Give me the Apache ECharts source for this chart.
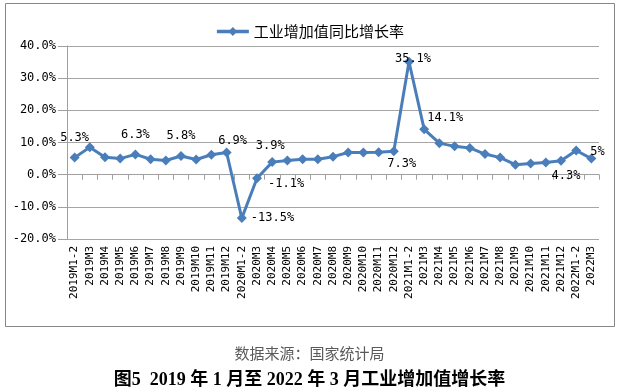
<!DOCTYPE html>
<html>
<head>
<meta charset="utf-8">
<script src="https://cdn.jsdelivr.net/npm/echarts@6/dist/echarts.min.js"></script>
<style>html,body{margin:0;padding:0;background:#fff;}#c{width:619px;height:389px;}</style>
</head>
<body>
<div id="c"></div>
<script>
var categories = ['2019M1-2','2019M3','2019M4','2019M5','2019M6','2019M7','2019M8','2019M9','2019M10','2019M11','2019M12',
  '2020M1-2','2020M3','2020M4','2020M5','2020M6','2020M7','2020M8','2020M9','2020M10','2020M11','2020M12',
  '2021M1-2','2021M3','2021M4','2021M5','2021M6','2021M7','2021M8','2021M9','2021M10','2021M11','2021M12',
  '2022M1-2','2022M3'];
var growth = [5.3, 8.5, 5.4, 5.0, 6.3, 4.8, 4.4, 5.8, 4.7, 6.2, 6.9,
  -13.5, -1.1, 3.9, 4.4, 4.8, 4.8, 5.6, 6.9, 6.9, 7.0, 7.3,
  35.1, 14.1, 9.8, 8.8, 8.3, 6.4, 5.3, 3.1, 3.5, 3.8, 4.3,
  7.5, 5];
var seriesName = '工业增加值同比增长率';
var yTicks = {min: -20, max: 40, interval: 10};
var labeledIdx = [0, 4, 7, 10, 11, 12, 13, 21, 22, 23, 32, 34];
var sourceText = '数据来源：国家统计局';
var captionText = '图5  2019 年 1 月至 2022 年 3 月工业增加值增长率';

var monoFont = '"DejaVu Sans Mono", monospace';
// label placement per labelled point (style only)
var labelStyle = {
  0: {position: 'top', distance: 9},
  4: {position: 'top', distance: 9},
  7: {position: 'top', distance: 9},
  10: {position: 'top', distance: 1, offset: [6, 0]},
  11: {position: 'right', distance: 4},
  12: {position: 'right', distance: 4, offset: [2, 6]},
  13: {position: 'top', distance: 5, offset: [-2, 0]},
  21: {position: 'bottom', distance: 2, offset: [8, 0]},
  22: {position: 'top', distance: -8, offset: [4, 0]},
  23: {position: 'right', distance: -2, offset: [0, -11]},
  32: {position: 'bottom', distance: 4, offset: [5, 0]},
  34: {position: 'top', distance: 0, offset: [6, 4]}
};
var seriesData = growth.map(function (v, i) {
  if (labeledIdx.indexOf(i) >= 0) {
    var s = labelStyle[i];
    return {value: v, label: Object.assign({show: true}, s)};
  }
  return {value: v};
});

var chart = echarts.init(document.getElementById('c'), null, {renderer: 'canvas'});
chart.setOption({
  backgroundColor: '#fff',
  animation: false,
  title: [
    {text: sourceText, left: 'center', top: 341, textStyle: {fontSize: 15, fontWeight: 'normal', color: '#5a5a5a', fontFamily: '"Noto Sans CJK SC"'}},
    {text: captionText, left: 'center', top: 366, textStyle: {fontSize: 18, fontWeight: 'bold', color: '#000', fontFamily: '"Liberation Serif", "Noto Sans CJK SC"'}}
  ],
  graphic: [
    {type: 'rect', shape: {x: 5.5, y: 3.5, width: 609, height: 323}, style: {fill: 'none', stroke: '#878787', lineWidth: 1}, silent: true, z: -1}
  ],
  legend: {
    top: 19, left: 'center',
    itemWidth: 32, itemHeight: 11, itemGap: 10,
    lineStyle: {width: 3.5, color: '#4a7ebb'},
    itemStyle: {color: '#4a7ebb'},
    textStyle: {fontSize: 15, color: '#000', fontFamily: '"Noto Sans CJK SC"'},
    data: [seriesName]
  },
  grid: {left: 67, right: 20, top: 46, bottom: 150, containLabel: false},
  xAxis: {
    type: 'category',
    data: categories,
    boundaryGap: true,
    axisLine: {show: true, lineStyle: {color: '#a0a0a0'}},
    axisTick: {show: true, length: 5, alignWithLabel: false, lineStyle: {color: '#a0a0a0'}},
    axisLabel: {interval: 0, rotate: 90, fontSize: 11, color: '#000', margin: 7, fontFamily: monoFont},
    splitLine: {show: false}
  },
  yAxis: {
    type: 'value',
    min: yTicks.min, max: yTicks.max, interval: yTicks.interval,
    axisLine: {show: true, lineStyle: {color: '#a0a0a0'}},
    axisTick: {show: true, length: 9, lineStyle: {color: '#a0a0a0'}},
    axisLabel: {fontSize: 12, color: '#000', margin: 11, fontFamily: monoFont,
      formatter: function (v) { return v.toFixed(1) + '%'; }},
    splitLine: {show: true, lineStyle: {color: '#a6a6a6', width: 1}}
  },
  series: [{
    name: seriesName,
    type: 'line',
    data: seriesData,
    symbol: 'diamond',
    symbolSize: 10,
    lineStyle: {color: '#4a7ebb', width: 3},
    itemStyle: {color: '#4a7ebb'},
    label: {show: false, fontSize: 12, color: '#000', fontFamily: monoFont,
      formatter: function (p) { return p.value + '%'; }},
    emphasis: {disabled: true}
  }]
});
</script>
</body>
</html>
